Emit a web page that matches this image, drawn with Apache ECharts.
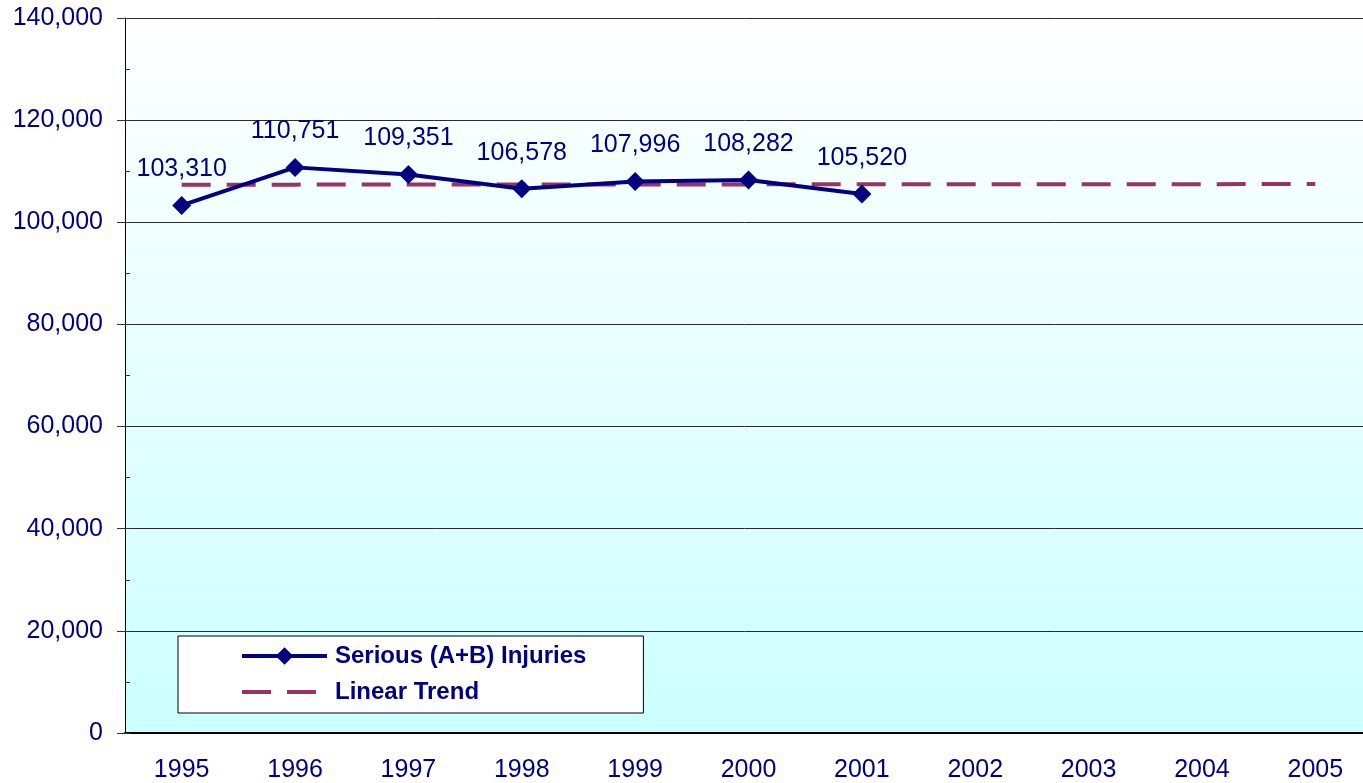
<!DOCTYPE html>
<html>
<head>
<meta charset="utf-8">
<script src="https://cdn.jsdelivr.net/npm/echarts@6/dist/echarts.min.js"></script>
<style>
  html, body { margin: 0; padding: 0; background: #fff; }
  #main { width: 1363px; height: 783px; }
</style>
</head>
<body>
<div id="main"></div>
<script>
// years on the x axis
var years = ["1995", "1996", "1997", "1998", "1999", "2000", "2001", "2002", "2003", "2004", "2005"];
// serious (A+B) injuries, 1995-2001
var injuries = [103310, 110751, 109351, 106578, 107996, 108282, 105520];
// linear trend (almost flat)
var trend = [107362, 107374, 107386, 107398, 107410, 107422, 107434, 107446, 107458, 107470, 107482];

var navy = "#000080";
var plum = "#993366";
var font = "'Liberation Sans', Arial, sans-serif";

function fmt(v) {
  return Number(v).toLocaleString("en-US");
}

var chart = echarts.init(document.getElementById("main"));
chart.setOption({
  backgroundColor: "#ffffff",
  animation: false,
  grid: {
    left: 125,
    top: 18,
    width: 1247,
    bottom: 50,
    outerBoundsMode: "none",
    containLabel: false,
    show: true,
    borderWidth: 0,
    backgroundColor: new echarts.graphic.LinearGradient(0, 0, 0, 1, [
      { offset: 0, color: "#ffffff" },
      { offset: 1, color: "#ccffff" }
    ])
  },
  legend: {
    orient: "vertical",
    left: 178,
    top: 636,
    padding: [8, 57, 9, 62],
    itemGap: 12,
    itemWidth: 85,
    itemHeight: 22,
    backgroundColor: "#ffffff",
    borderColor: "#000000",
    borderWidth: 1,
    borderRadius: 0,
    textStyle: {
      color: navy,
      fontFamily: font,
      fontSize: 24,
      fontWeight: "bold",
      padding: [0, 0, 0, 3]
    },
    data: [
      { name: "Serious (A+B) Injuries", lineStyle: { width: 4 } },
      { name: "Linear Trend", lineStyle: { width: 4 }, itemStyle: { opacity: 0 } }
    ]
  },
  xAxis: {
    type: "category",
    data: years,
    boundaryGap: true,
    axisLine: { lineStyle: { color: "#000000", width: 2 } },
    axisTick: { length: 8, lineStyle: { color: "#000000" } },
    axisLabel: { color: navy, fontFamily: font, fontSize: 25, margin: 25 },
    splitLine: { show: false }
  },
  yAxis: [
    {
      type: "value",
      min: 0,
      max: 140000,
      interval: 20000,
      axisLine: { show: true, lineStyle: { color: "#000000", width: 1 } },
      axisTick: { show: true, length: 8, lineStyle: { color: "#333333" } },
      axisLabel: {
        color: navy,
        fontFamily: font,
        fontSize: 25,
        margin: 22,
        formatter: fmt
      },
      splitLine: { lineStyle: { color: "#2a2a2a", width: 1 } }
    },
    {
      // inner minor ticks every 10,000
      type: "value",
      position: "left",
      offset: 0,
      min: 0,
      max: 140000,
      interval: 10000,
      axisLine: { show: false },
      axisTick: { show: true, inside: true, length: 5, lineStyle: { color: "#333333" } },
      axisLabel: { show: false },
      splitLine: { show: false }
    }
  ],
  series: [
    {
      name: "Serious (A+B) Injuries",
      type: "line",
      data: injuries,
      symbol: "diamond",
      symbolSize: 19,
      color: navy,
      lineStyle: { color: navy, width: 4 },
      itemStyle: { color: navy },
      z: 3,
      label: {
        show: true,
        position: "top",
        distance: 14,
        color: navy,
        fontFamily: font,
        fontSize: 25,
        formatter: function (p) { return fmt(p.value); }
      }
    },
    {
      name: "Linear Trend",
      type: "line",
      data: trend,
      symbol: "none",
      color: plum,
      lineStyle: { color: plum, width: 4, type: [29, 16] },
      z: 2
    }
  ]
});
window.addEventListener("resize", function () {
  chart.resize();
});
</script>
</body>
</html>
